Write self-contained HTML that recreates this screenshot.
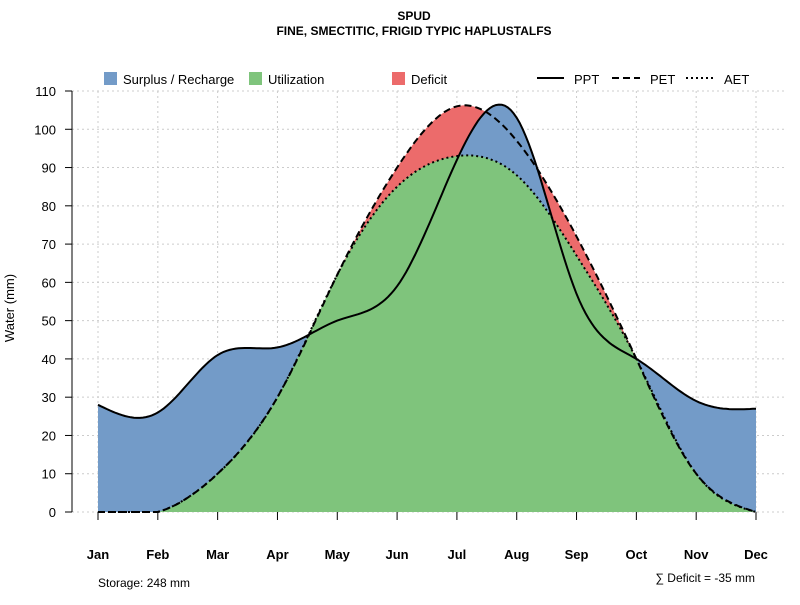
<!DOCTYPE html>
<html><head><meta charset="utf-8"><style>
body{margin:0;background:#fff;font-family:"Liberation Sans",sans-serif}
</style></head><body>
<svg id="chart" width="800" height="600" xmlns="http://www.w3.org/2000/svg" font-family="Liberation Sans, sans-serif">
<text x="414" y="20" text-anchor="middle" font-size="12" font-weight="bold">SPUD</text>
<text x="414" y="35" text-anchor="middle" font-size="12" font-weight="bold">FINE, SMECTITIC, FRIGID TYPIC HAPLUSTALFS</text>
<g id="grid"></g>
<g id="areas"></g>
<g id="lines"></g>
<g id="axes"></g>
<g font-size="13">
<rect x="104" y="72" width="13" height="13" fill="#739bc8"/>
<text x="123" y="84">Surplus / Recharge</text>
<rect x="249" y="72" width="13" height="13" fill="#7fc47c"/>
<text x="268" y="84">Utilization</text>
<rect x="392" y="72" width="13" height="13" fill="#ec6b6b"/>
<text x="411" y="84">Deficit</text>
<line x1="537" y1="78" x2="564" y2="78" stroke="#000" stroke-width="2"/>
<text x="574" y="84">PPT</text>
<line x1="612" y1="78" x2="640" y2="78" stroke="#000" stroke-width="2" stroke-dasharray="7,4"/>
<text x="650" y="84">PET</text>
<line x1="686" y1="78" x2="714" y2="78" stroke="#000" stroke-width="2" stroke-dasharray="2,3"/>
<text x="724" y="84">AET</text>
</g>
<text transform="translate(14,308) rotate(-90)" text-anchor="middle" font-size="13">Water (mm)</text>
<text x="98" y="587" font-size="12">Storage: 248 mm</text>
<text x="755" y="582" text-anchor="end" font-size="12">∑ Deficit = -35 mm</text>
</svg>
<script>
const months=["Jan","Feb","Mar","Apr","May","Jun","Jul","Aug","Sep","Oct","Nov","Dec"];
const ppt=[28,26,41,43,50,59,92,103,57,40,29,27];
const pet=[0,0,10,30,62,90,106,97,72,40,10,0];
const aet=[0,0,10,30,62,85,93,88,67,40,10,0];
const yTicks=[0,10,20,30,40,50,60,70,80,90,100,110];
const NS="http://www.w3.org/2000/svg";
const X=i=>98+i*(756-98)/11, Y=v=>512-v*(421/110);
function mk(tag,attrs,parent){const e=document.createElementNS(NS,tag);for(const k in attrs)e.setAttribute(k,attrs[k]);parent.appendChild(e);return e;}
function spline(y){const n=y.length,m=new Array(n).fill(0),a=[],b=[],c=[],d=[];
 for(let i=1;i<n-1;i++){a[i]=1;b[i]=4;c[i]=1;d[i]=6*(y[i+1]-2*y[i]+y[i-1]);}
 const cp=[],dp=[];cp[1]=c[1]/b[1];dp[1]=d[1]/b[1];
 for(let i=2;i<n-1;i++){const den=b[i]-a[i]*cp[i-1];cp[i]=c[i]/den;dp[i]=(d[i]-a[i]*dp[i-1])/den;}
 for(let i=n-2;i>=1;i--)m[i]=dp[i]-(i<n-2?cp[i]*m[i+1]:0);
 const pts=[];for(let i=0;i<n-1;i++)for(let k=0;k<20;k++){const t=k/20;
  let v=(1-t)*y[i]+t*y[i+1]+((Math.pow(1-t,3)-(1-t))*m[i]+(t*t*t-t)*m[i+1])/6;
  pts.push([X(i+t),Y(Math.max(0,v))]);}
 pts.push([X(n-1),Y(Math.max(0,y[n-1]))]);return pts;}
const P=spline(ppt),E=spline(pet),A=spline(aet);
const grid=document.getElementById('grid'),areas=document.getElementById('areas'),lines=document.getElementById('lines'),axes=document.getElementById('axes');
months.forEach((m,i)=>{const g=mk('line',{x1:X(i),x2:X(i),y1:91,y2:512,stroke:'#ccc','stroke-dasharray':'2,3'},grid);
});
yTicks.forEach(v=>{const g=mk('line',{x1:72,x2:784,y1:Y(v),y2:Y(v),stroke:'#ccc','stroke-dasharray':'2,3'},grid);
});
const area=pts=>'M'+X(0)+','+Y(0)+' '+pts.map(p=>'L'+p[0].toFixed(1)+','+p[1].toFixed(1)).join(' ')+' L'+X(11)+','+Y(0)+'Z';
const line=pts=>'M'+pts.map(p=>p[0].toFixed(1)+','+p[1].toFixed(1)).join(' L');
let e=mk('path',{d:area(E),fill:'#ec6b6b'},areas);
e=mk('path',{d:area(P),fill:'#739bc8'},areas);
e=mk('path',{d:area(A),fill:'#7fc47c'},areas);
e=mk('path',{d:line(P),fill:'none',stroke:'#000','stroke-width':2},lines);
e=mk('path',{d:line(E),fill:'none',stroke:'#000','stroke-width':2,'stroke-dasharray':'7,4'},lines);
e=mk('path',{d:line(A),fill:'none',stroke:'#000','stroke-width':2,'stroke-dasharray':'2,3'},lines);
e=mk('line',{x1:72,x2:72,y1:91,y2:512,stroke:'#000'},axes);
yTicks.forEach(v=>{let t=mk('line',{x1:65,x2:72,y1:Y(v),y2:Y(v),stroke:'#000'},axes);
t=mk('text',{x:56,y:Y(v)+5,'text-anchor':'end','font-size':13},axes);t.textContent=v;});
months.forEach((m,i)=>{let t=mk('line',{x1:X(i),x2:X(i),y1:512,y2:520,stroke:'#000'},axes);
t=mk('text',{x:X(i),y:559,'text-anchor':'middle','font-size':13,'font-weight':'bold'},axes);t.textContent=m;});
</script>
</body></html>
